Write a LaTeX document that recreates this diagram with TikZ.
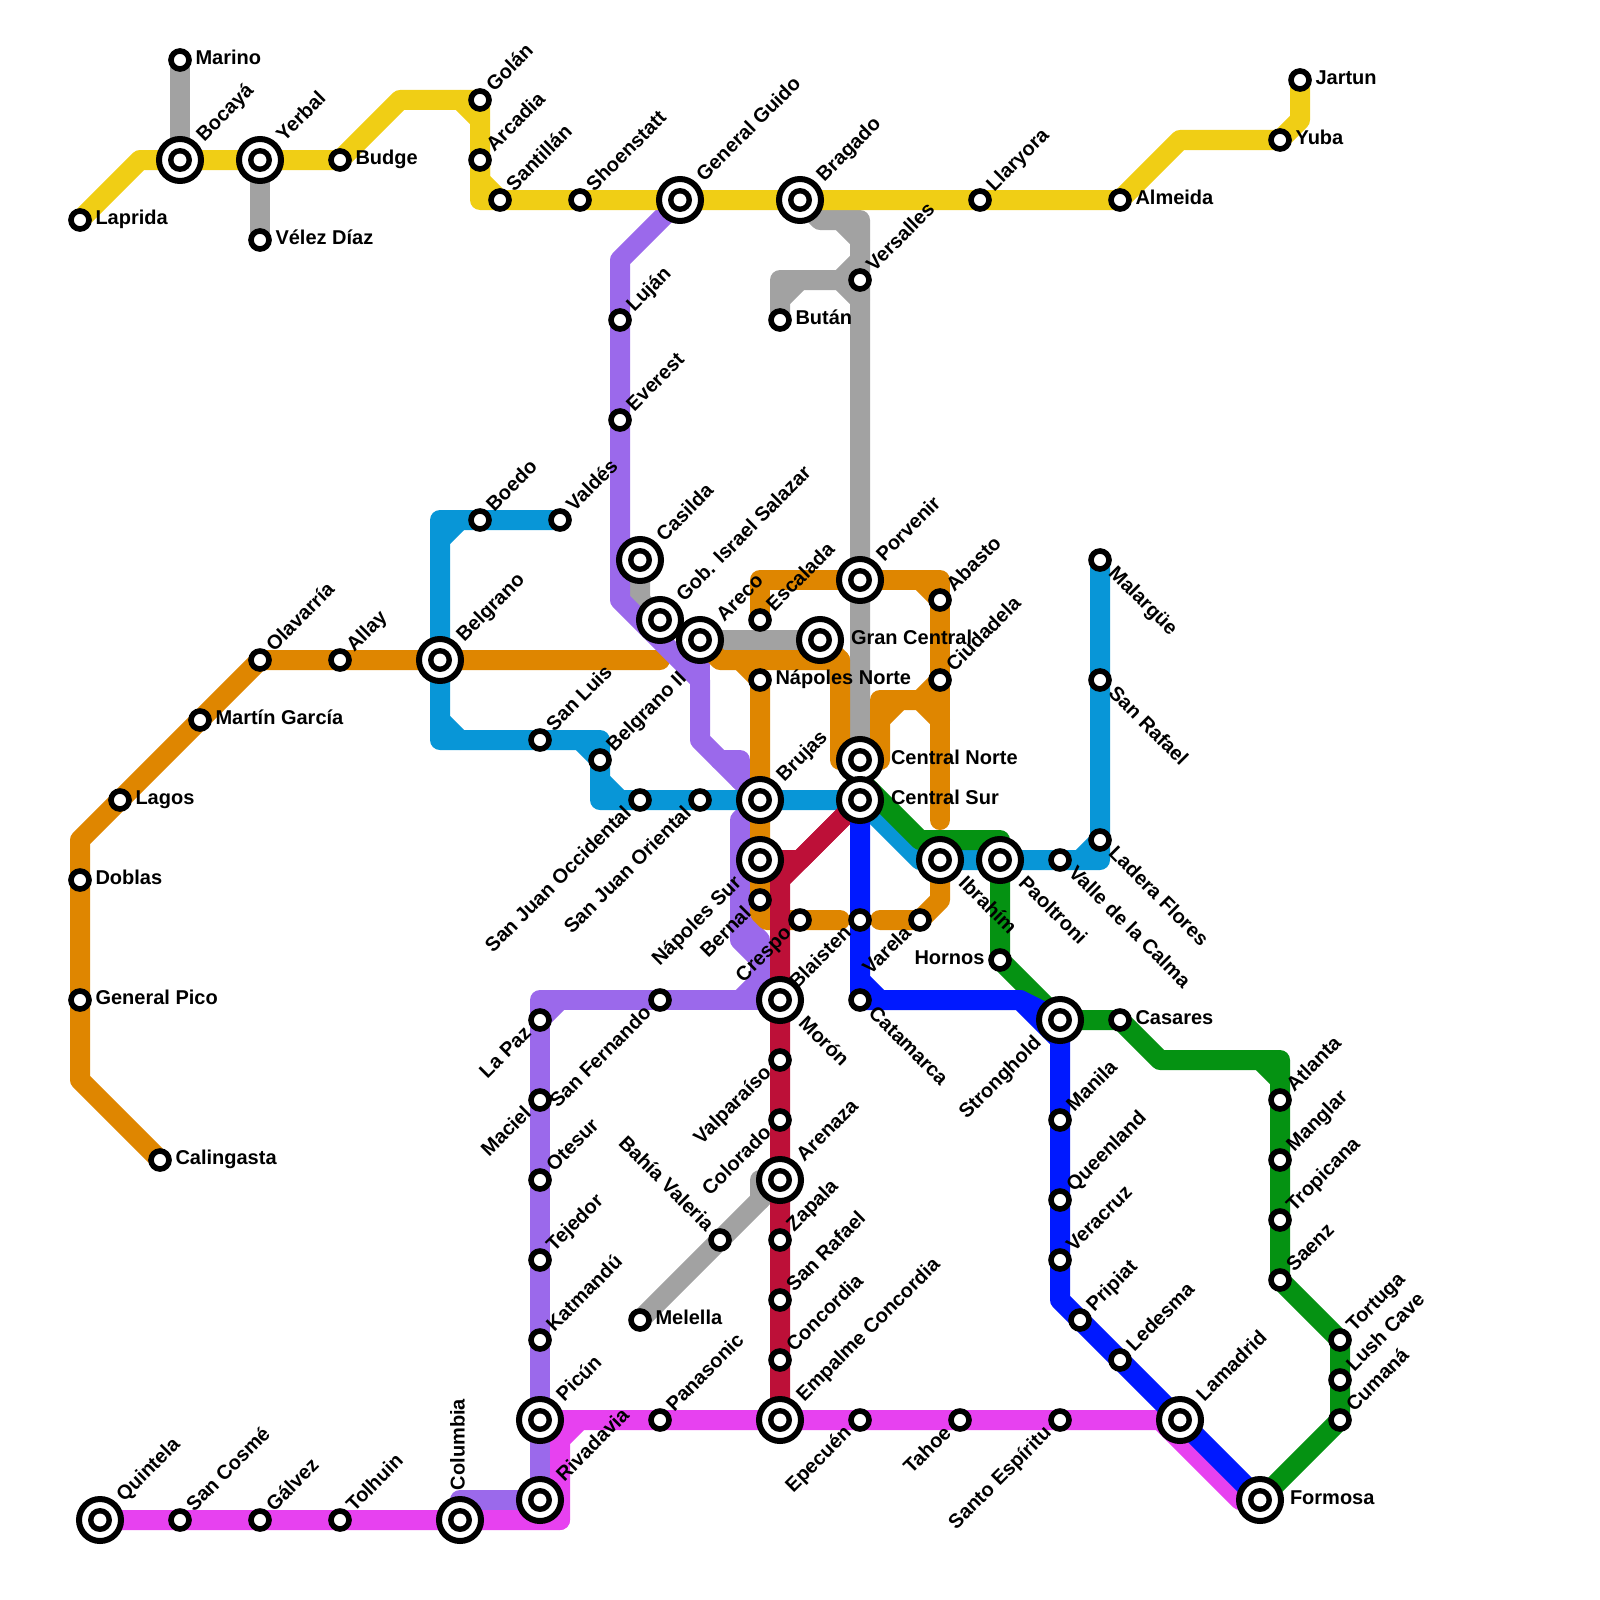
\documentclass[tikz,border=0pt]{standalone}
\usepackage{fontspec}
\setmainfont{Liberation Sans}
\pgfdeclarelayer{lines}
\pgfsetlayers{lines,main}
\definecolor{cyellow}{HTML}{F0CE15}
\definecolor{cgray}{HTML}{A2A2A2}
\definecolor{corange}{HTML}{DF8600}
\definecolor{cpurple}{HTML}{9B69EB}
\definecolor{cmagenta}{HTML}{E741F0}
\definecolor{cblue}{HTML}{0896D7}
\definecolor{cgreen}{HTML}{059212}
\definecolor{cred}{HTML}{BD1038}
\definecolor{cdark}{HTML}{0019FF}
\tikzset{
 x=1pt,y=-1pt,
 route/.style={line width=20pt,line cap=round,line join=round},
 stop/.style={circle,draw=black,fill=white,line width=5.6pt,inner sep=0pt,outer sep=0pt,minimum size=18pt},
 hub/.style={circle,draw=black,fill=white,line width=6pt,inner sep=0pt,outer sep=0pt,minimum size=42pt,
   path picture={\fill[black] (path picture bounding box.center) circle (12pt);
                 \fill[white] (path picture bounding box.center) circle (6.4pt);}},
 lab/.style={inner sep=0pt,outer sep=0pt,font=\bfseries\fontsize{20}{21}\selectfont},
 lE/.style={lab,xshift=#1pt,yshift=-2pt,anchor=mid west},lE/.default=15.5,
 lW/.style={lab,xshift=-#1pt,yshift=-2pt,anchor=mid east},lW/.default=15.5,
 lN/.style={lab,yshift=#1pt,rotate=90,yshift=-2pt,anchor=mid west},lN/.default=30,
 lNE/.style={lab,xshift=#1pt,yshift=#1pt,rotate=45,yshift=-2pt,anchor=mid west},lNE/.default=11,
 lSE/.style={lab,xshift=#1pt,yshift=-#1pt,rotate=-45,yshift=-2pt,anchor=mid west},lSE/.default=11,
 lSW/.style={lab,xshift=-#1pt,yshift=-#1pt,rotate=45,yshift=-2pt,anchor=mid east},lSW/.default=11,
 lNW/.style={lab,xshift=-#1pt,yshift=#1pt,rotate=-45,yshift=-2pt,anchor=mid east},lNW/.default=11,
}
\newcommand\stn[5]{\node[stop] (#1) at (#2,#3) {}; \node[#4] (l#1) at (#1.center) {#5};}
\newcommand\hbn[5]{\node[hub] (#1) at (#2,#3) {}; \node[#4] (l#1) at (#1.center) {#5};}
\begin{document}
\begin{tikzpicture}
\useasboundingbox (0,0) rectangle (1600,1600);
% yellow line
\stn{Laprida}{80}{220}{lE}{Laprida}
\stn{Marino}{180}{60}{lE}{Marino}
\hbn{Bocaya}{180}{160}{lNE=21}{Bocayá}
\hbn{Yerbal}{260}{160}{lNE=21}{Yerbal}
\stn{Velez}{260}{240}{lE}{Vélez Díaz}
\stn{Budge}{340}{160}{lE}{Budge}
\stn{Golan}{480}{100}{lNE}{Golán}
\stn{Arcadia}{480}{160}{lNE}{Arcadia}
\stn{Santillan}{500}{200}{lNE}{Santillán}
\stn{Shoenstatt}{580}{200}{lNE}{Shoenstatt}
\hbn{Guido}{680}{200}{lNE=21}{General Guido}
\hbn{Bragado}{800}{200}{lNE=21}{Bragado}
\stn{Llaryora}{980}{200}{lNE}{Llaryora}
\stn{Almeida}{1120}{200}{lE}{Almeida}
\stn{Yuba}{1280}{140}{lE}{Yuba}
\stn{Jartun}{1300}{80}{lE}{Jartun}
% gray
\stn{Versalles}{860}{280}{lNE}{Versalles}
\stn{Butan}{780}{320}{lE}{Bután}
\hbn{Porvenir}{860}{580}{lNE=21}{Porvenir}
\hbn{GranCentral}{820}{640}{lE=31}{Gran Central}
\hbn{CentralNorte}{860}{760}{lE=31}{Central Norte}
\hbn{CentralSur}{860}{800}{lE=31}{Central Sur}
\stn{BahiaValeria}{720}{1240}{lNW}{Bahía Valeria}
\stn{Melella}{640}{1320}{lE}{Melella}
% purple
\stn{Lujan}{620}{320}{lNE}{Luján}
\stn{Everest}{620}{420}{lNE}{Everest}
\hbn{Casilda}{640}{560}{lNE=21}{Casilda}
\hbn{GobIsrael}{660}{620}{lNE=21}{Gob. Israel Salazar}
\hbn{Areco}{700}{640}{lNE=21}{Areco}
\stn{SanFernando}{660}{1000}{lSW}{San Fernando}
\stn{LaPaz}{540}{1020}{lSW}{La Paz}
\stn{Maciel}{540}{1100}{lSW}{Maciel}
\stn{Otesur}{540}{1180}{lNE}{Otesur}
\stn{Tejedor}{540}{1260}{lNE}{Tejedor}
\stn{Katmandu}{540}{1340}{lNE}{Katmandú}
\hbn{Picun}{540}{1420}{lNE=21}{Picún}
\hbn{Rivadavia}{540}{1500}{lNE=21}{Rivadavia}
\hbn{Columbia}{460}{1520}{lN}{Columbia}
% orange
\stn{Calingasta}{160}{1160}{lE}{Calingasta}
\stn{GeneralPico}{80}{1000}{lE}{General Pico}
\stn{Doblas}{80}{880}{lE}{Doblas}
\stn{Lagos}{120}{800}{lE}{Lagos}
\stn{Martin}{200}{720}{lE}{Martín García}
\stn{Olavarria}{260}{660}{lNE}{Olavarría}
\stn{Allay}{340}{660}{lNE}{Allay}
\hbn{Belgrano}{440}{660}{lNE=21}{Belgrano}
\stn{Escalada}{760}{620}{lNE}{Escalada}
\stn{Abasto}{940}{600}{lNE}{Abasto}
\stn{Ciudadela}{940}{680}{lNE}{Ciudadela}
\stn{NapolesNorte}{760}{680}{lE}{Nápoles Norte}
\hbn{Brujas}{760}{800}{lNE=21}{Brujas}
\hbn{NapolesSur}{760}{860}{lSW=21}{Nápoles Sur}
\stn{Bernal}{760}{900}{lSW}{Bernal}
\stn{Crespo}{800}{920}{lSW}{Crespo}
\stn{Blaisten}{860}{920}{lSW}{Blaisten}
\stn{Varela}{920}{920}{lSW}{Varela}
\hbn{Ibrahim}{940}{860}{lSE=21}{Ibrahím}
% light blue
\stn{Boedo}{480}{520}{lNE}{Boedo}
\stn{Valdes}{560}{520}{lNE}{Valdés}
\stn{SanLuis}{540}{740}{lNE}{San Luis}
\stn{BelgranoII}{600}{760}{lNE}{Belgrano II}
\stn{SJOcc}{640}{800}{lSW}{San Juan Occidental}
\stn{SJOri}{700}{800}{lSW}{San Juan Oriental}
\hbn{Paoltroni}{1000}{860}{lSE=21}{Paoltroni}
\stn{ValleCalma}{1060}{860}{lSE}{Valle de la Calma}
\stn{Ladera}{1100}{840}{lSE}{Ladera Flores}
\stn{SanRafaelN}{1100}{680}{lSE}{San Rafael}
\stn{Malargue}{1100}{560}{lSE}{Malargüe}
% green
\stn{Hornos}{1000}{960}{lW}{Hornos}
\hbn{Stronghold}{1060}{1020}{lSW=21}{Stronghold}
\stn{Casares}{1120}{1020}{lE}{Casares}
\stn{Atlanta}{1280}{1100}{lNE}{Atlanta}
\stn{Manglar}{1280}{1160}{lNE}{Manglar}
\stn{Tropicana}{1280}{1220}{lNE}{Tropicana}
\stn{Saenz}{1280}{1280}{lNE}{Saenz}
\stn{Tortuga}{1340}{1340}{lNE}{Tortuga}
\stn{LushCave}{1340}{1380}{lNE}{Lush Cave}
\stn{Cumana}{1340}{1420}{lNE}{Cumaná}
\hbn{Formosa}{1260}{1500}{lE=30}{Formosa}
% dark blue
\stn{Catamarca}{860}{1000}{lSE}{Catamarca}
\stn{Manila}{1060}{1120}{lNE}{Manila}
\stn{Queenland}{1060}{1200}{lNE}{Queenland}
\stn{Veracruz}{1060}{1260}{lNE}{Veracruz}
\stn{Pripiat}{1080}{1320}{lNE}{Pripiat}
\stn{Ledesma}{1120}{1360}{lNE}{Ledesma}
\hbn{Lamadrid}{1180}{1420}{lNE=21}{Lamadrid}
% red
\hbn{Moron}{780}{1000}{lSE=21}{Morón}
\stn{Valparaiso}{780}{1060}{lSW}{Valparaíso}
\stn{Colorado}{780}{1120}{lSW}{Colorado}
\hbn{Arenaza}{780}{1180}{lNE=21}{Arenaza}
\stn{Zapala}{780}{1240}{lNE}{Zapala}
\stn{SanRafaelS}{780}{1300}{lNE}{San Rafael}
\stn{Concordia}{780}{1360}{lNE}{Concordia}
\hbn{Empalme}{780}{1420}{lNE=21}{Empalme Concordia}
% magenta
\hbn{Quintela}{100}{1520}{lNE=21}{Quintela}
\stn{SanCosme}{180}{1520}{lNE}{San Cosmé}
\stn{Galvez}{260}{1520}{lNE}{Gálvez}
\stn{Tolhuin}{340}{1520}{lNE}{Tolhuin}
\stn{Panasonic}{660}{1420}{lNE}{Panasonic}
\stn{Epecuen}{860}{1420}{lSW}{Epecuén}
\stn{Tahoe}{960}{1420}{lSW}{Tahoe}
\stn{SantoEsp}{1060}{1420}{lSW}{Santo Espíritu}
\begin{pgfonlayer}{lines}
% magenta
\draw[route,cmagenta] (Quintela.center)--(SanCosme.center)--(Galvez.center)--(Tolhuin.center)--(Columbia.center)--(560,1520)--(560,1440)--(580,1420)--(Panasonic.center)--(Empalme.center)--(Epecuen.center)--(Tahoe.center)--(SantoEsp.center)--(1160,1420)--(1240,1500)--(Formosa.center);
\draw[route,cmagenta] (Picun.center)--(580,1420);
\draw[route,cmagenta] (SantoEsp.center)--(Lamadrid.center);
\draw[route,cmagenta] (Rivadavia.center)--(560,1520);
% gray
\draw[route,cgray] (Marino.center)--(Bocaya.center);
\draw[route,cgray] (Yerbal.center)--(Velez.center);
\draw[route,cgray] (Bragado.center)--(820,220)--(860,220)--(Versalles.center)--(Porvenir.center)--(CentralNorte.center);
\draw[route,cgray] (840,220)--(860,240);
\draw[route,cgray] (Butan.center)--(780,280)--(840,280)--(860,260);
\draw[route,cgray] (780,300)--(800,280);
\draw[route,cgray] (840,280)--(860,300);
\draw[route,cgray] (Casilda.center)--(640,600)--(GobIsrael.center);
\draw[route,cgray] (Areco.center)--(GranCentral.center);
\draw[route,cgray] (Melella.center)--(BahiaValeria.center)--(Arenaza.center);
\draw[route,cgray] (760,1200)--(760,1180)--(Arenaza.center);
% orange west
\draw[route,corange] (Calingasta.center)--(80,1080)--(GeneralPico.center)--(Doblas.center)--(80,840)--(Lagos.center)--(Martin.center)--(Olavarria.center)--(Allay.center)--(Belgrano.center)--(660,660);
% purple
\draw[route,cpurple] (Guido.center)--(620,260)--(Lujan.center)--(Everest.center)--(620,600)--(700,680)--(700,740)--(Brujas.center);
\draw[route,cpurple] (Areco.center)--(700,680);
\draw[route,cpurple] (720,760)--(740,760)--(740,780);
\draw[route,cpurple] (Brujas.center)--(740,820)--(740,940)--(770,970);
\draw[route,cpurple] (740,920)--(760,940)--(760,980)--(740,1000);
\draw[route,cpurple] (Moron.center)--(SanFernando.center)--(540,1000)--(LaPaz.center)--(Maciel.center)--(Otesur.center)--(Tejedor.center)--(Katmandu.center)--(Picun.center)--(Rivadavia.center)--(460,1500)--(Columbia.center);
\draw[route,cpurple] (560,1000)--(LaPaz.center);
% orange
\draw[route,corange] (Escalada.center)--(760,580)--(Porvenir.center)--(940,580)--(Abasto.center)--(Ciudadela.center)--(940,820);
\draw[route,corange] (920,580)--(Abasto.center);
\draw[route,corange] (Areco.center)--(720,660)--(840,660)--(840,760)--(CentralNorte.center)--(880,760)--(880,700)--(920,700)--(Ciudadela.center);
\draw[route,corange] (GranCentral.center)--(840,660);
\draw[route,corange] (880,720)--(900,700);
\draw[route,corange] (920,700)--(940,720);
\draw[route,corange] (740,660)--(NapolesNorte.center)--(Brujas.center)--(NapolesSur.center)--(Bernal.center)--(760,913)--(767,920)--(Crespo.center)--(840,920);
\draw[route,corange] (880,920)--(Varela.center)--(940,900)--(Ibrahim.center);
% light blue
\draw[route,cblue] (Valdes.center)--(Boedo.center)--(440,520)--(Belgrano.center)--(440,740)--(SanLuis.center)--(600,740)--(BelgranoII.center)--(600,800)--(SJOcc.center)--(SJOri.center)--(Brujas.center)--(CentralSur.center)--(920,860)--(Ibrahim.center)--(Paoltroni.center)--(ValleCalma.center)--(1100,860)--(Ladera.center)--(SanRafaelN.center)--(Malargue.center);
\draw[route,cblue] (460,520)--(440,540);
\draw[route,cblue] (440,720)--(460,740);
\draw[route,cblue] (580,740)--(BelgranoII.center);
\draw[route,cblue] (600,780)--(620,800);
\draw[route,cblue] (1080,860)--(Ladera.center);
% green
\draw[route,cgreen] (CentralSur.center)--(860,780)--(920,840)--(1000,840)--(Paoltroni.center)--(Hornos.center)--(Stronghold.center)--(Casares.center)--(1160,1060)--(1280,1060)--(Atlanta.center)--(Manglar.center)--(Tropicana.center)--(Saenz.center)--(Tortuga.center)--(LushCave.center)--(Cumana.center)--(Formosa.center);
\draw[route,cgreen] (1260,1060)--(1280,1080);
% red
\draw[route,cred] (CentralSur.center)--(780,880)--(Moron.center)--(Valparaiso.center)--(Colorado.center)--(Arenaza.center)--(Zapala.center)--(SanRafaelS.center)--(Concordia.center)--(Empalme.center);
\draw[route,cred] (NapolesSur.center)--(800,860)--(CentralSur.center);
% dark blue
\draw[route,cdark] (CentralSur.center)--(Blaisten.center)--(Catamarca.center)--(1020,1000)--(1060,1040)--(Manila.center)--(Queenland.center)--(Veracruz.center)--(1060,1300)--(Pripiat.center)--(Ledesma.center)--(Lamadrid.center)--(Formosa.center);
\draw[route,cdark] (860,980)--(880,1000);
\draw[route,cdark] (1020,1000)--(Stronghold.center);
% yellow
\draw[route,cyellow] (Laprida.center)--(140,160)--(Bocaya.center)--(Yerbal.center)--(Budge.center)--(400,100)--(Golan.center)--(Arcadia.center)--(480,200)--(Santillan.center)--(Shoenstatt.center)--(Guido.center)--(Bragado.center)--(Llaryora.center)--(Almeida.center)--(1180,140)--(Yuba.center)--(1300,120)--(Jartun.center);
\draw[route,cyellow] (460,100)--(480,120);
\draw[route,cyellow] (Arcadia.center)--(480,180)--(Santillan.center);
\end{pgfonlayer}
\end{tikzpicture}
\end{document}
